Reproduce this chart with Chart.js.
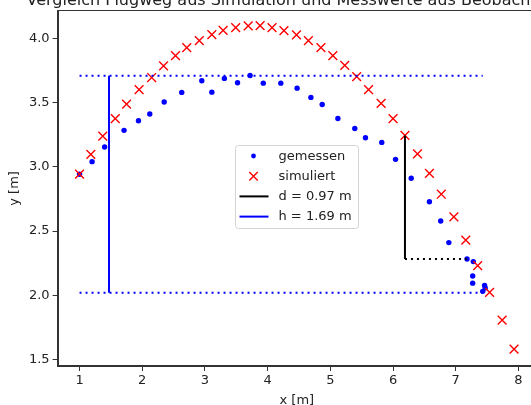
<!DOCTYPE html>
<html lang="de">
<head>
<meta charset="UTF-8">
<title>Vergleich Flugweg</title>
<script src="https://cdn.jsdelivr.net/npm/chart.js"></script>
<style>
  html, body { margin: 0; padding: 0; background: #fff; overflow: hidden; }
  #wrap { position: relative; width: 531px; height: 405px; overflow: hidden; }
  #grafico { position: absolute; left: 0; top: 0; }
</style>
</head>
<body>
<div id="wrap"><canvas id="grafico" width="536" height="408"></canvas></div>
<script>
const titel = 'Vergleich Flugweg aus Simulation und Messwerte aus Beobachtung';

// simulierte Flugbahn (rote Kreuze)
const simX = [1.00, 1.18, 1.37, 1.57, 1.75, 1.95, 2.15, 2.34, 2.53, 2.71, 2.91, 3.11, 3.29,
              3.49, 3.69, 3.88, 4.07, 4.26, 4.46, 4.65, 4.85, 5.04, 5.23, 5.42, 5.61, 5.81,
              6.00, 6.19, 6.39, 6.58, 6.77, 6.97, 7.16, 7.35, 7.54, 7.74, 7.93];
const simY = [2.943, 3.098, 3.240, 3.377, 3.490, 3.602, 3.697, 3.788, 3.868, 3.930, 3.984, 4.031, 4.064,
              4.085, 4.099, 4.101, 4.085, 4.062, 4.029, 3.984, 3.930, 3.868, 3.791, 3.703, 3.602, 3.496,
              3.377, 3.245, 3.102, 2.950, 2.787, 2.611, 2.430, 2.230, 2.022, 1.805, 1.580];

// Messwerte (blaue Punkte)
const messX = [1.00, 1.20, 1.40, 1.71, 1.94, 2.12, 2.35, 2.63, 2.95, 3.11, 3.31, 3.52, 3.72,
               3.93, 4.21, 4.47, 4.69, 4.87, 5.12, 5.39, 5.56, 5.82, 6.04, 6.29, 6.58, 6.76,
               6.89, 7.18, 7.28, 7.27, 7.27, 7.46, 7.47, 7.43];
const messY = [2.943, 3.041, 3.155, 3.285, 3.360, 3.413, 3.506, 3.581, 3.672, 3.583, 3.690, 3.656, 3.713,
               3.653, 3.653, 3.614, 3.542, 3.486, 3.377, 3.299, 3.227, 3.191, 3.059, 2.912, 2.728, 2.578,
               2.410, 2.282, 2.262, 2.150, 2.094, 2.076, 2.057, 2.030];

const xTicks = [1, 2, 3, 4, 5, 6, 7, 8];
const yTicks = [1.5, 2.0, 2.5, 3.0, 3.5, 4.0];

// Hilfslinien: h = max - min der Messung, d = Abstand Simulation/Messung
const hX = 1.47, hOben = 3.71, hUnten = 2.02;
const dX = 6.19, dOben = 3.245, dUnten = 2.282, dEndeX = 7.175;
const linieVon = 1.0, linieBis = 7.43;

const hWert = hOben - hUnten;
const dWert = 0.97;

const fonte = 'DejaVu Sans';

function punkte(xs, ys) {
    return xs.map((x, i) => ({ x: x, y: ys[i] }));
}

const dados = {
    datasets: [
        {
            label: 'gemessen', legende: 'punkt',
            data: punkte(messX, messY),
            pointStyle: 'circle', pointRadius: 2.7, pointBorderWidth: 0,
            backgroundColor: '#0000ff', borderColor: '#0000ff',
            order: 5
        },
        {
            label: 'simuliert', legende: 'kreuz',
            data: punkte(simX, simY),
            pointStyle: 'crossRot', pointRadius: 6.2, pointBorderWidth: 1.4,
            borderColor: '#ff0000', backgroundColor: '#ff0000',
            order: 4
        },
        {
            label: 'hoch', data: [{ x: linieVon, y: hOben }, { x: linieBis, y: hOben }],
            showLine: true, pointRadius: 0, borderColor: '#0000ff', borderWidth: 2,
            borderDash: [2, 4], order: 3
        },
        {
            label: 'tief', data: [{ x: linieVon, y: hUnten }, { x: linieBis, y: hUnten }],
            showLine: true, pointRadius: 0, borderColor: '#0000ff', borderWidth: 2,
            borderDash: [2, 4], order: 3
        },
        {
            label: 'd = ' + dWert.toFixed(2) + ' m', legende: 'linie',
            data: [{ x: dX, y: dOben }, { x: dX, y: dUnten }],
            showLine: true, pointRadius: 0, borderColor: '#000000', borderWidth: 2, order: 2
        },
        {
            label: 'dpunkt', data: [{ x: dX, y: dUnten }, { x: dEndeX, y: dUnten }],
            showLine: true, pointRadius: 0, borderColor: '#000000', borderWidth: 2,
            borderDash: [2, 4], order: 2
        },
        {
            label: 'h = ' + hWert.toFixed(2) + ' m', legende: 'linie',
            data: [{ x: hX, y: hOben }, { x: hX, y: hUnten }],
            showLine: true, pointRadius: 0, borderColor: '#0000ff', borderWidth: 2, order: 1
        }
    ]
};

// Rahmen, Titel und Legende wie in matplotlib
const extras = {
    id: 'extras',
    afterDraw(chart) {
        const c = chart.ctx;
        const a = chart.chartArea;
        c.save();
        c.strokeStyle = '#333';
        c.lineWidth = 1;
        c.strokeRect(Math.round(a.left) + 0.5, Math.round(a.top) - 0.5,
                     Math.round(a.right - a.left), Math.round(a.bottom - a.top));

        c.fillStyle = '#222';
        c.font = '16px "' + fonte + '"';
        c.textAlign = 'center';
        c.textBaseline = 'alphabetic';
        c.fillText(titel, (a.left + a.right) / 2, 5);

        // Legende
        const lx = 235.5, ly = 145.5;
        c.fillStyle = 'rgba(255,255,255,0.85)';
        c.strokeStyle = '#d4d4d4';
        c.beginPath();
        c.roundRect(lx, ly, 123, 83, 3);
        c.fill();
        c.stroke();

        const eintraege = chart.data.datasets.filter(d => d.legende);
        eintraege.forEach((d, i) => {
            const y = ly + 10.5 + i * 20.2;
            const mx = lx + 18;
            if (d.legende === 'punkt') {
                c.fillStyle = d.backgroundColor;
                c.beginPath();
                c.arc(mx, y, 2.4, 0, Math.PI * 2);
                c.fill();
            } else if (d.legende === 'kreuz') {
                c.strokeStyle = d.borderColor;
                c.lineWidth = 1.4;
                c.beginPath();
                c.moveTo(mx - 4.2, y - 4.2); c.lineTo(mx + 4.2, y + 4.2);
                c.moveTo(mx - 4.2, y + 4.2); c.lineTo(mx + 4.2, y - 4.2);
                c.stroke();
            } else {
                c.strokeStyle = d.borderColor;
                c.lineWidth = 2;
                c.beginPath();
                c.moveTo(lx + 4, y); c.lineTo(lx + 33, y);
                c.stroke();
            }
            c.fillStyle = '#222';
            c.font = '13px "' + fonte + '"';
            c.textAlign = 'left';
            c.textBaseline = 'middle';
            c.fillText(d.label, lx + 43, y + 0.5);
        });
        c.restore();
    }
};

const tickFont = { family: fonte, size: 13 };

const config = {
    type: 'scatter',
    data: dados,
    plugins: [extras],
    options: {
        responsive: false,
        devicePixelRatio: 1,
        animation: false,
        layout: { autoPadding: false, padding: { top: 9, left: 0, right: 0, bottom: 0 } },
        plugins: { legend: { display: false }, tooltip: { enabled: false } },
        scales: {
            x: {
                type: 'linear', min: 0.65, max: 8.28,
                afterBuildTicks: s => { s.ticks = xTicks.map(v => ({ value: v })); },
                afterFit: s => { s.height = 42; },
                ticks: { font: tickFont, color: '#222', padding: 2, callback: v => String(v) },
                grid: { drawOnChartArea: false, drawTicks: true, tickLength: 5, color: '#333' },
                border: { display: true, color: '#333', width: 1 },
                title: { display: true, text: 'x [m]', font: tickFont, color: '#222', padding: { top: 0, bottom: 0 } }
            },
            y: {
                type: 'linear', min: 1.448, max: 4.217,
                afterBuildTicks: s => { s.ticks = yTicks.map(v => ({ value: v })); },
                afterFit: s => { s.width = 57.6; },
                ticks: { font: tickFont, color: '#222', padding: 3, callback: v => v.toFixed(1) },
                grid: { drawOnChartArea: false, drawTicks: true, tickLength: 5, color: '#333' },
                border: { display: true, color: '#333', width: 1 },
                title: { display: true, text: 'y [m]', font: tickFont, color: '#222', padding: { top: 7, bottom: 0 } }
            }
        }
    }
};

let myChart = new Chart(document.getElementById('grafico'), config);
</script>
</body>
</html>
